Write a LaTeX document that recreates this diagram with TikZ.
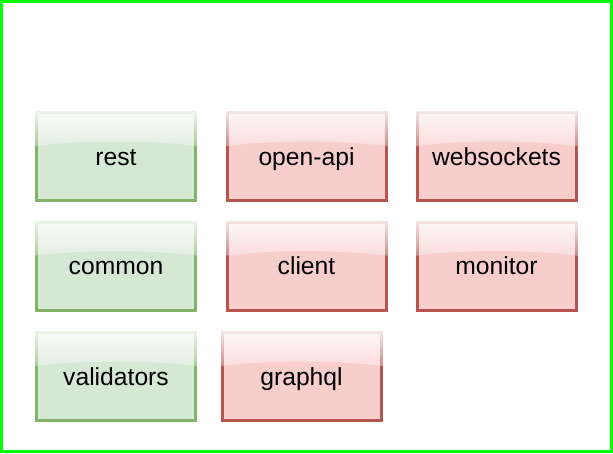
\documentclass[tikz,border=0pt]{standalone}
\usepackage{fontspec}
\setmainfont{Liberation Sans}
\usetikzlibrary{calc,fadings}
\definecolor{gfill}{HTML}{D5E8D4}
\definecolor{gline}{HTML}{82B366}
\definecolor{rfill}{HTML}{F8CECC}
\definecolor{rline}{HTML}{B85450}
\definecolor{frame}{HTML}{00FF00}
\tikzfading[name=glossfade, top color=transparent!12, bottom color=transparent!68]
\tikzset{
  modbox/.style={rectangle, line width=2.25pt, minimum width=119.25pt, minimum height=66pt, inner sep=0pt},
  okbox/.style={modbox, draw=gline, fill=gfill},
  badbox/.style={modbox, draw=rline, fill=rfill},
  boxlabel/.style={anchor=base, inner sep=0pt, font=\fontsize{18.5pt}{22pt}\selectfont},
}
\newcommand{\glossover}[1]{%
  \fill[white, path fading=glossfade]
    ($(#1.north west)+(-1.5,-1.5)$) -- ($(#1.north east)+(1.5,-1.5)$)
    -- ($(#1.north east)+(1.5,35.5)$)
    .. controls ($(#1.north east)+(-40,29)$) and ($(#1.north west)+(40,29)$) ..
    ($(#1.north west)+(-1.5,35.5)$) -- cycle;}
\newcommand{\boxtext}[2]{\node[boxlabel] (#1-t) at ($(#1)+(0,8.5)$) {#2};}
\begin{document}
\begin{tikzpicture}[x=0.75pt,y=-0.75pt]
\useasboundingbox (0,0) rectangle (613,453);
\draw[frame, line width=2.25pt] (1.5,1.5) rectangle (611.5,451.5);
\node[okbox]  (rest)   at (116,156.5) {};
\node[badbox] (openapi) at (306.5,156.5) {};
\node[badbox] (websockets) at (496.5,156.5) {};
\node[okbox]  (common) at (116,266) {};
\node[badbox] (client) at (306.5,266) {};
\node[badbox] (monitor) at (496.5,266) {};
\node[okbox]  (validators) at (116,376.5) {};
\node[badbox] (graphql) at (301.5,376.5) {};
\foreach \n in {rest,openapi,websockets,common,client,monitor,validators,graphql}{\glossover{\n}}
\boxtext{rest}{rest}
\boxtext{openapi}{open-api}
\boxtext{websockets}{websockets}
\boxtext{common}{common}
\boxtext{client}{client}
\boxtext{monitor}{monitor}
\boxtext{validators}{validators}
\boxtext{graphql}{graphql}
\end{tikzpicture}
\end{document}
